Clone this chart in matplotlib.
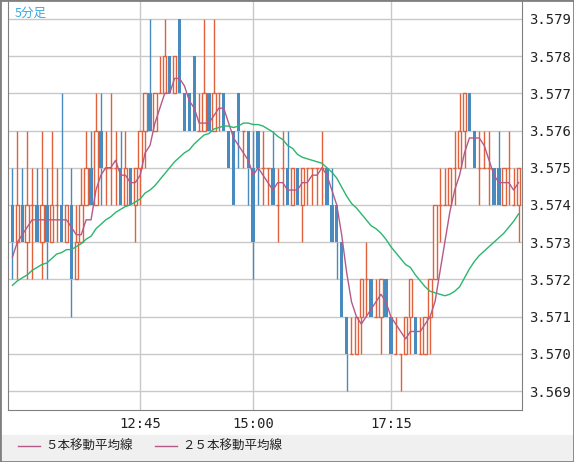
import matplotlib

matplotlib.use("Agg")
import matplotlib.pyplot as plt
import numpy as np
import pandas as pd

plt.rcParams["font.family"] = ["DejaVu Sans Mono", "Noto Sans CJK JP"]

BASE = 3.569
TICK = 0.001

# OHLC in 0.001 steps above 3.569
opens = [5, 4, 5, 4, 5, 5, 4, 5, 4, 5, 5, 4, 5, 3, 4,
         5, 6, 5, 7, 6, 6, 6, 6, 5, 6, 5, 6, 7,
         8, 7, 8, 8, 9, 8, 10, 8, 8, 9, 7, 7, 8, 7, 8, 8, 7, 7, 8, 7, 7, 6,
         7, 6, 6, 6, 5, 6, 6, 5, 6, 5, 6, 6, 6, 6, 6, 5, 5, 4, 2, 1, 1, 2,
         3, 3, 2, 2, 3, 2, 1, 1, 1, 2, 2, 1, 1, 2, 3, 5, 5, 5, 6,
         6, 7, 8, 7, 6, 6, 6, 6, 6, 5, 6, 5, 5]
highs = [6, 7, 6, 7, 6, 6, 7, 6, 7, 6, 8, 5, 6, 5, 6,
         7, 7, 8, 8, 7, 8, 7, 7, 7, 6, 6, 7, 8,
         10, 8, 9, 10, 9, 9, 10, 8, 8, 9, 8, 10, 8, 10, 8, 8, 7, 7, 8, 7, 7, 7,
         7, 7, 6, 7, 6, 7, 7, 6, 6, 6, 6, 6, 6, 7, 6, 6, 5, 4, 2, 2, 2, 3,
         4, 3, 3, 3, 3, 2, 2, 1, 2, 3, 2, 2, 2, 3, 5, 6, 6, 6, 7,
         8, 8, 8, 7, 7, 7, 7, 6, 7, 6, 7, 6, 6]
lows = [3, 3, 4, 3, 3, 4, 3, 3, 4, 4, 4, 4, 2, 3, 4,
        5, 5, 5, 5, 5, 5, 5, 5, 5, 5, 4, 5, 6,
        7, 7, 8, 8, 8, 8, 8, 7, 7, 7, 7, 7, 7, 7, 7, 7, 6, 5, 6, 6, 5, 3,
        5, 5, 5, 5, 4, 5, 5, 5, 5, 4, 5, 5, 5, 5, 5, 4, 3, 2, 0, 1, 1, 1,
        2, 2, 2, 1, 2, 1, 1, 0, 1, 1, 1, 1, 1, 1, 3, 4, 5, 5, 5,
        6, 6, 7, 6, 5, 6, 5, 5, 5, 5, 5, 5, 4]
closes = [4, 5, 4, 5, 5, 4, 5, 4, 5, 5, 4, 5, 3, 4, 5,
          6, 5, 7, 6, 6, 6, 6, 5, 6, 5, 6, 7, 8,
          7, 8, 8, 9, 8, 9, 8, 7, 7, 7, 7, 8, 7, 8, 8, 7, 6, 5, 7, 7, 6, 4,
          6, 6, 6, 5, 5, 6, 5, 6, 5, 6, 6, 6, 6, 6, 5, 4, 4, 2, 1, 1, 2, 3,
          3, 2, 2, 3, 2, 1, 1, 1, 2, 3, 1, 1, 2, 3, 5, 5, 5, 6, 6,
          7, 8, 7, 6, 6, 6, 6, 5, 5, 6, 6, 5, 6]
# closes before the visible window, for the 25-bar average warm-up
prior_closes = [2, 2, 3, 2, 2, 3, 3, 2, 2, 3, 3, 3, 2, 3, 3, 3, 2, 3, 3, 4, 3, 3, 4, 4]

tick_pos = [26, 49, 77]
tick_labels = ["12:45", "15:00", "17:15"]

C_UP = "#e0623c"
C_DN = "#4a8bbf"
C_MA5 = "#b55a88"
C_MA25 = "#2cb56e"

o = BASE + TICK * np.array(opens)
h = BASE + TICK * np.array(highs)
l = BASE + TICK * np.array(lows)
c = BASE + TICK * np.array(closes)
n = len(o)
x = np.arange(n)

allc = pd.Series(BASE + TICK * np.array(prior_closes + closes, dtype=float))
ma5 = allc.rolling(5).mean().to_numpy()[len(prior_closes):]
ma25 = allc.rolling(25, min_periods=1).mean().to_numpy()[len(prior_closes):]

fig = plt.figure(figsize=(5.74, 4.62), dpi=100, facecolor="white")
# grey legend strip at the bottom
fig.patches.append(matplotlib.patches.Rectangle((0, 0), 1, 1 - 435 / 462, color="#f0f0f0",
                                                transform=fig.transFigure, zorder=-1))
ax = fig.add_axes([8 / 574, 1 - 410 / 462, 514 / 574, 409 / 462])
ax.set_facecolor("white")

w = 0.7
for i in x:
    top, bot = max(o[i], c[i]), min(o[i], c[i])
    col = C_UP if c[i] >= o[i] else C_DN
    ax.vlines(i, top, h[i], color=col, lw=1)
    ax.vlines(i, l[i], bot, color=col, lw=1)
    if c[i] > o[i]:
        ax.bar(i, top - bot, bottom=bot, width=w, facecolor="white",
               edgecolor=C_UP, lw=1, zorder=2)
    elif c[i] < o[i]:
        ax.bar(i, top - bot, bottom=bot, width=w, color=C_DN, lw=0, zorder=2)
    else:
        ax.hlines(o[i], i - w / 2, i + w / 2, color=C_UP, lw=1, zorder=2)

ax.plot(x, ma5, color=C_MA5, lw=1, zorder=3)
ax.plot(x, ma25, color=C_MA25, lw=1, zorder=3)

ax.set_xlim(-0.9, n - 0.3)
ax.set_ylim(3.56849, 3.57948)
ax.set_yticks(BASE + TICK * np.arange(0, 11))
ax.yaxis.set_major_formatter(matplotlib.ticker.FormatStrFormatter("%.3f"))
ax.yaxis.tick_right()
ax.set_xticks(tick_pos)
ax.set_xticklabels(tick_labels)
ax.tick_params(length=0, labelsize=10, colors="#222222", pad=5)
ax.grid(color="#c8c8c8", lw=1)
ax.set_axisbelow(True)
for s in ax.spines.values():
    s.set_color("#808080")
ax.spines["top"].set_visible(False)
ax.text(0.012, 0.985, "5分足", transform=ax.transAxes, color="#3aa8e0",
        fontsize=9, va="top", ha="left", family=["Noto Sans CJK JP"])

fig.lines.append(matplotlib.lines.Line2D([18 / 574, 40 / 574], [1 - 446 / 462] * 2,
                                         color=C_MA5, lw=1, transform=fig.transFigure))
fig.text(45 / 574, 1 - 446 / 462, "５本移動平均線", fontsize=9, va="center", color="#222222",
         family=["Noto Sans CJK JP"])
fig.lines.append(matplotlib.lines.Line2D([155 / 574, 177 / 574], [1 - 446 / 462] * 2,
                                         color=C_MA5, lw=1, transform=fig.transFigure))
fig.text(182 / 574, 1 - 446 / 462, "２５本移動平均線", fontsize=9, va="center", color="#222222",
         family=["Noto Sans CJK JP"])

fig.patches.append(matplotlib.patches.Rectangle((0, 0), 1, 1, fill=False, ec="#808080",
                                                lw=2, transform=fig.transFigure))
fig.savefig("out.png", dpi=100, facecolor=fig.get_facecolor())
